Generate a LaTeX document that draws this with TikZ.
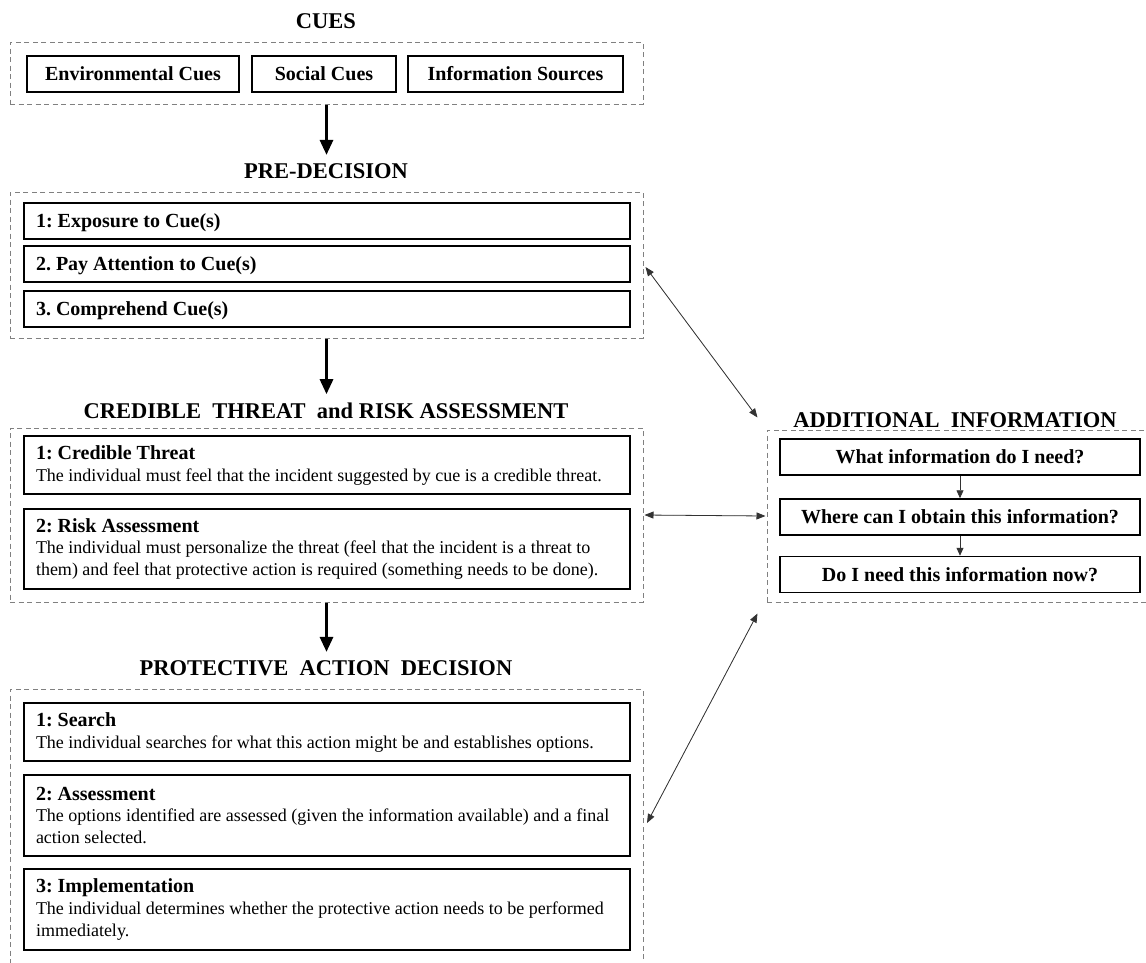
\documentclass[tikz,border=0pt]{standalone}
\usepackage{fontspec}
\setmainfont{Liberation Serif}
\usetikzlibrary{arrows.meta}
\definecolor{dashgray}{HTML}{808080}
\definecolor{linegray}{HTML}{333333}
\newcommand\bodyfont{\normalfont\fontsize{18}{21.5}\selectfont\frenchspacing}
\begin{document}
\begin{tikzpicture}[x=1pt,y=-1pt,
  grp/.style={draw=dashgray, line width=1pt, dash pattern=on 5pt off 3.5pt, inner sep=0pt},
  box/.style={draw=black, line width=1.5pt, inner sep=0pt, font=\bfseries\fontsize{20}{22}\selectfont\frenchspacing},
  txtbox/.style={box, minimum width=606pt, text width=582pt, align=flush left},
  onebox/.style={txtbox, minimum height=36pt, text depth=0pt},
  ttl/.style={font=\bfseries\fontsize{22.5}{24}\selectfont, inner sep=0pt, anchor=base},
  big/.style={-{Triangle[width=13pt,length=15pt]}, line width=3pt, shorten >=8pt},
  dbl/.style={{Triangle[width=7pt,length=9pt]}-{Triangle[width=7pt,length=9pt]}, line width=0.8pt, draw=linegray, fill=linegray},
  sml/.style={-{Triangle[width=7pt,length=8pt]}, line width=0.8pt, draw=linegray}
]
\useasboundingbox (0,0) rectangle (1146,962);
\clip (0,0) rectangle (1146,962);
\fill[white] (0,0) rectangle (1146,962);

% group frames
\node[grp, minimum width=633pt, minimum height=62pt] (cuesgrp) at (326.5,73) {};
\node[grp, minimum width=633pt, minimum height=146pt] (pregrp) at (326.5,265) {};
\node[grp, minimum width=633pt, minimum height=174pt] (credgrp) at (326.5,515) {};
\node[grp, minimum width=633pt, minimum height=300pt] (protgrp) at (326.5,839) {};
\node[grp, minimum width=400pt, minimum height=172pt] (addgrp) at (967,516) {};

% titles
\node[ttl] (cuesttl) at (326,28) {CUES};
\node[ttl] (prettl) at (326,178) {PRE-DECISION};
\node[ttl] (credttl) at (326,418) {CREDIBLE\ \ THREAT\ \ and RISK ASSESSMENT};
\node[ttl] (protttl) at (326,675) {PROTECTIVE\ \ ACTION\ \ DECISION};
\node[ttl] (addttl) at (955,427) {ADDITIONAL\ \ INFORMATION};

% cues
\node[box, minimum width=212pt, minimum height=36pt] (env) at (133,74) {Environmental Cues};
\node[box, minimum width=144pt, minimum height=36pt] (soc) at (324,74) {Social Cues};
\node[box, minimum width=215pt, minimum height=36pt] (inf) at (515.5,74) {Information Sources};

% pre-decision
\node[onebox] (pre1) at (327,221) {1: Exposure to Cue(s)};
\node[onebox] (pre2) at (327,264) {2. Pay Attention to Cue(s)};
\node[onebox] (pre3) at (327,309) {3. Comprehend Cue(s)};

% credible threat
\node[txtbox, minimum height=58pt] (cred1) at (327,465) {1: Credible Threat\\\bodyfont The individual must feel that the incident suggested by cue is a credible threat.};
\node[txtbox, minimum height=80pt] (cred2) at (327,549) {2: Risk Assessment\\\bodyfont The individual must personalize the threat (feel that the incident is a threat to\\them) and feel that protective action is required (something needs to be done).};

% protective action
\node[txtbox, minimum height=58pt] (prot1) at (327,732) {1: Search\\\bodyfont The individual searches for what this action might be and establishes options.};
\node[txtbox, minimum height=81pt] (prot2) at (327,815.5) {2: Assessment\\\bodyfont The options identified are assessed (given the information available) and a final\\action selected.};
\node[txtbox, minimum height=81pt] (prot3) at (327,909.5) {3: Implementation\\\bodyfont The individual determines whether the protective action needs to be performed\\immediately.};

% additional information
\node[box, minimum width=360pt, minimum height=36pt] (q1) at (960,457) {What information do I need?};
\node[box, minimum width=360pt, minimum height=36pt] (q2) at (960,517) {Where can I obtain this information?};
\node[box, minimum width=360pt, minimum height=36pt] (q3) at (960,574.5) {Do I need this information now?};

% main flow arrows
\draw[big] (cuesgrp.south) -- (cuesgrp.south |- prettl.north);
\draw[big] (pregrp.south) -- (pregrp.south |- credttl.north);
\draw[big] (credgrp.south) -- (credgrp.south |- protttl.north);

% additional info arrows
\draw[sml] (q1.south) -- (q2.north);
\draw[sml] (q2.south) -- (q3.north);

% two-way links
\coordinate (pc) at (647,823);
\draw[dbl] ([xshift=2pt,yshift=-2pt]pregrp.east) -- ([xshift=-9pt,yshift=12pt]addgrp.north west);
\draw[dbl] ([xshift=1pt]credgrp.east) -- ([xshift=-1pt]addgrp.west);
\draw[dbl] (pc) -- ([xshift=-9pt,yshift=-11pt]addgrp.south west);
\end{tikzpicture}
\end{document}
